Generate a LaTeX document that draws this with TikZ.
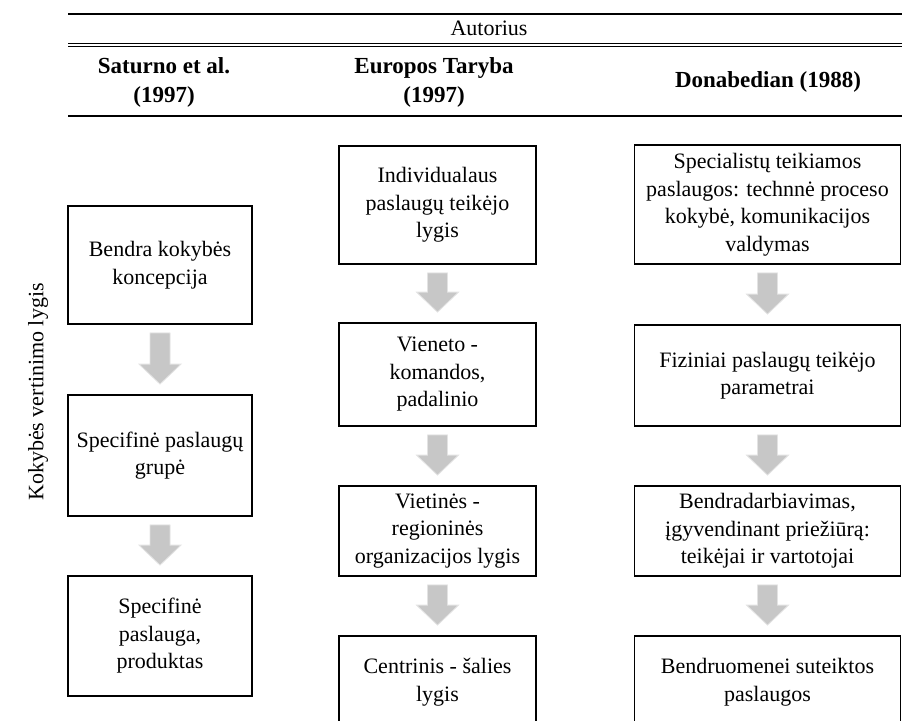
\documentclass[tikz,border=0pt]{standalone}
\usepackage{fontspec}
\setmainfont{Liberation Serif}
\usetikzlibrary{calc}
\newcommand\flowarrow[2]{%
  \filldraw[arrowstyle] ($(#1.south)+(-10,8)$) -- ($(#1.south)+(10,8)$)
    -- ($(#2.north)+(10,-30)$) -- ($(#2.north)+(21,-30)$)
    -- ($(#2.north)+(0,-10)$) -- ($(#2.north)+(-21,-30)$)
    -- ($(#2.north)+(-10,-30)$) -- cycle;}
\begin{document}
\begin{tikzpicture}[x=1pt,y=-1pt,
  every node/.style={font=\fontsize{22}{27.5}\selectfont, inner sep=0pt},
  box/.style={draw=black, line width=1.8pt, align=center, inner sep=2pt},
  hdr/.style={font=\fontsize{23}{29}\selectfont\bfseries, align=center},
  arrowstyle/.style={fill=black!22, draw=black!11, line width=0.8pt}]
\useasboundingbox (0,0) rectangle (902,720);
\fill[white] (0,0) rectangle (902,720);
% header rules
\draw[line width=1.6pt] (68,14) -- (902,14);
\draw[line width=1pt] (68,43.3) -- (902,43.3);
\draw[line width=1pt] (68,46.3) -- (902,46.3);
\draw[line width=2.5pt] (68,116) -- (902,116);
\node (aut) at (489,28) {Autorius};
\node[hdr] (h1) at (164,82) {Saturno et al.\\(1997)};
\node[hdr] (h2) at (434,82) {Europos Taryba\\(1997)};
\node[hdr] (h3) at (768,82) {Donabedian (1988)};
\node[rotate=90] (lab) at (38,392) {Kokybės vertinimo lygis};
% column 1
\node[box, minimum width=184pt, minimum height=118pt] (a1) at (160,265) {Bendra kokybės\\koncepcija};
\node[box, minimum width=184pt, minimum height=121pt] (a2) at (160,455.5) {Specifinė paslaugų\\grupė};
\node[box, minimum width=184pt, minimum height=120pt] (a3) at (160,636) {Specifinė\\paslauga,\\produktas};
% column 2
\node[box, minimum width=197pt, minimum height=118pt] (b1) at (437.5,205) {Individualaus\\paslaugų teikėjo\\lygis};
\node[box, minimum width=197pt, minimum height=103pt] (b2) at (437.5,374.5) {Vieneto -\\komandos,\\padalinio};
\node[box, minimum width=197pt, minimum height=90pt] (b3) at (437.5,531) {Vietinės -\\regioninės\\organizacijos lygis};
\node[box, minimum width=197pt, minimum height=92pt] (b4) at (437.5,682) {Centrinis - šalies\\lygis};
% column 3
\node[box, minimum width=266pt, minimum height=119pt] (c1) at (767.5,204.5) {Specialistų teikiamos\\paslaugos: technnė proceso\\kokybė, komunikacijos\\valdymas};
\node[box, minimum width=266pt, minimum height=101pt] (c2) at (767.5,375.5) {Fiziniai paslaugų teikėjo\\parametrai};
\node[box, minimum width=266pt, minimum height=90pt] (c3) at (767.5,531) {Bendradarbiavimas,\\įgyvendinant priežiūrą:\\teikėjai ir vartotojai};
\node[box, minimum width=266pt, minimum height=92pt] (c4) at (767.5,682) {Bendruomenei suteiktos\\paslaugos};
% arrows
\flowarrow{a1}{a2}
\flowarrow{a2}{a3}
\flowarrow{b1}{b2}
\flowarrow{b2}{b3}
\flowarrow{b3}{b4}
\flowarrow{c1}{c2}
\flowarrow{c2}{c3}
\flowarrow{c3}{c4}
\end{tikzpicture}
\end{document}
